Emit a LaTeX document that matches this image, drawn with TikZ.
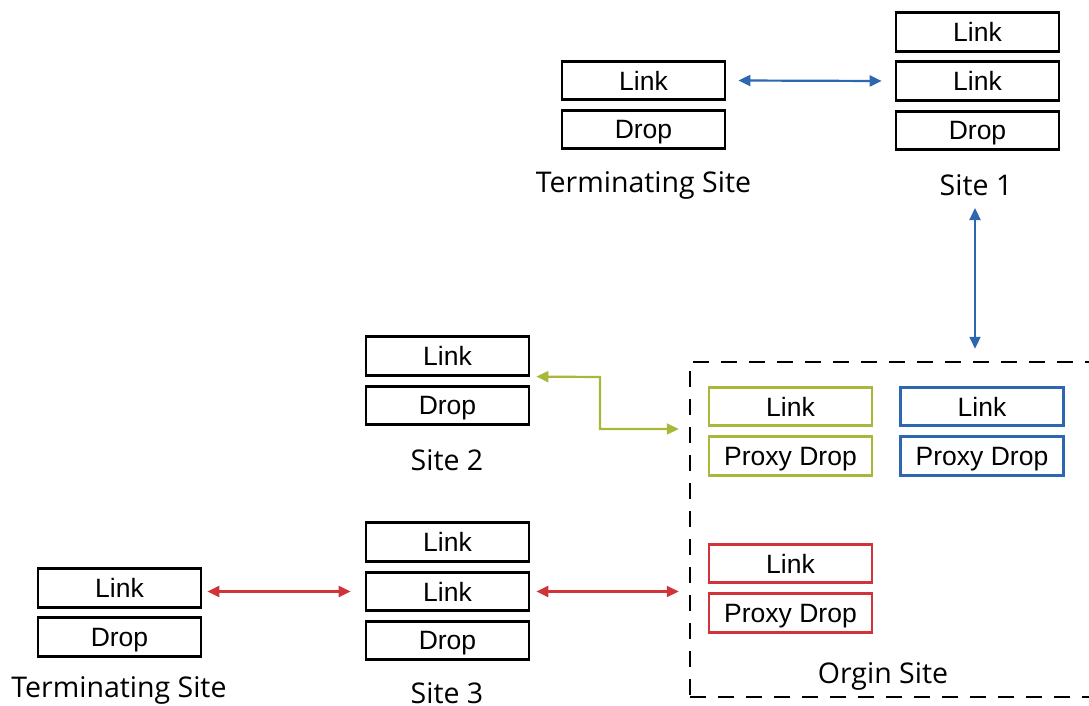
\documentclass[tikz,border=0pt]{standalone}
\usepackage{fontspec}
\setmainfont{Liberation Sans}
\newfontfamily\labfont{Open Sans}
\usetikzlibrary{arrows.meta}
\definecolor{cblue}{HTML}{2E67B1}
\definecolor{cgreen}{HTML}{A9B73A}
\definecolor{cred}{HTML}{D0343A}
\begin{document}
\begin{tikzpicture}[x=1pt,y=-1pt,
  box/.style={draw=black,line width=2.7pt,minimum width=163pt,minimum height=38.5pt,inner sep=0pt,text depth=0pt,font=\fontsize{26.5}{30}\selectfont},
  gbox/.style={box,draw=cgreen},
  bbox/.style={box,draw=cblue},
  rbox/.style={box,draw=cred},
  lab/.style={font=\labfont\fontsize{28.5}{32}\selectfont,inner sep=0pt},
  conn/.style={line width=2.2pt,{Triangle[length=12pt,width=11pt]}-{Triangle[length=12pt,width=11pt]}},
]
\path[use as bounding box] (0,0) rectangle (1089,706);
\clip (0,0) rectangle (1089,706);
% Terminating site top
\node[box] (tLink) at (643.5,80.5) {Link};
\node[box] (tDrop) at (643.5,129.5) {Drop};
\node[lab] (tLab) at (643.5,185) {Terminating Site};
% Site 1
\node[box] (aLink1) at (977.5,32) {Link};
\node[box] (aLink2) at (977.5,81) {Link};
\node[box] (aDrop) at (977.5,130.5) {Drop};
\node[lab] (aLab) at (976,185) {Site 1};
% Site 2
\node[box] (bLink) at (447.5,356) {Link};
\node[box] (bDrop) at (447.5,405.5) {Drop};
\node[lab] (bLab) at (447,460) {Site 2};
% Site 3
\node[box] (cLink1) at (447.5,542) {Link};
\node[box] (cLink2) at (447.5,591.5) {Link};
\node[box] (cDrop) at (447.5,640.5) {Drop};
\node[lab] (cLab) at (447,693) {Site 3};
% Terminating site bottom
\node[box] (uLink) at (119.5,588) {Link};
\node[box] (uDrop) at (119.5,637) {Drop};
\node[lab] (uLab) at (119,690) {Terminating Site};
% Origin site
\node[draw=black,line width=2.5pt,dash pattern=on 16pt off 12pt,minimum width=430pt,minimum height=335pt,inner sep=0pt] (origin) at (905,529.5) {};
\node[gbox] (gLink) at (790.5,406.5) {Link};
\node[gbox] (gDrop) at (790.5,456) {Proxy Drop};
\node[bbox] (hLink) at (982,406.5) {Link};
\node[bbox] (hDrop) at (982,456) {Proxy Drop};
\node[rbox] (rLink) at (790.5,563.5) {Link};
\node[rbox] (rDrop) at (790.5,613) {Proxy Drop};
\node[lab] (oLab) at (883,676) {Orgin Site};
% connectors
\draw[conn,cblue] ([xshift=12pt]tLink.east) -- ([xshift=-13pt]aLink2.west);
\coordinate (vA) at (975,208);
\coordinate (vB) at ([yshift=12pt]origin.north -| vA);
\draw[conn,cblue] (vA) -- (vB);
\coordinate (gA) at ([xshift=6pt]bLink.south east);
\coordinate (gBend1) at (600,377);
\coordinate (gBend2) at (600,429);
\coordinate (gB) at ([xshift=-10pt]origin.west |- gBend2);
\draw[conn,cgreen] (gA) -- (gBend1) -- (gBend2) -- (gB);
\draw[conn,cred] ([xshift=5pt]uLink.east |- cLink2.west) -- ([xshift=-14pt]cLink2.west);
\draw[conn,cred] ([xshift=6pt]cLink2.east) -- ([xshift=-10pt]cLink2.east -| origin.west);
\end{tikzpicture}
\end{document}
